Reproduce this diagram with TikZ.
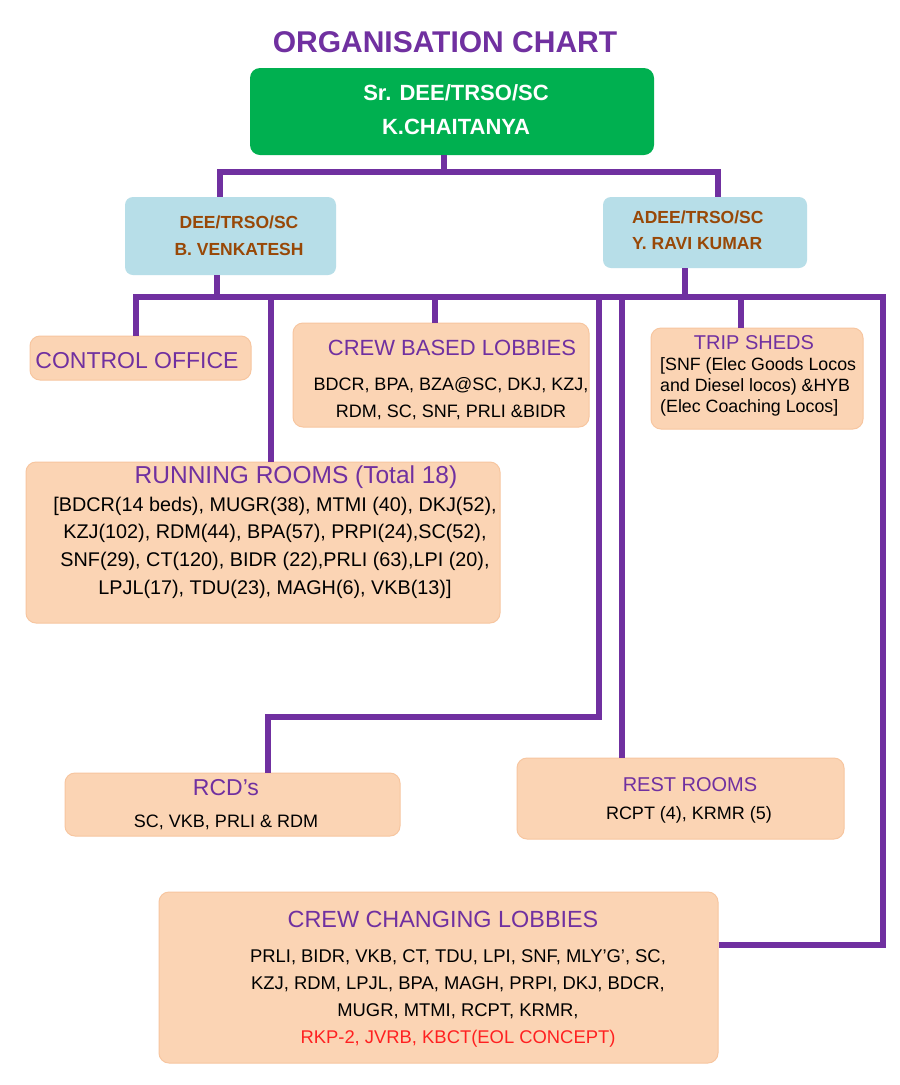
\documentclass[tikz,border=0pt]{standalone}
\usepackage{fontspec}
\setmainfont{Liberation Sans}
\definecolor{purp}{HTML}{7030A0}
\definecolor{grn}{HTML}{00B050}
\definecolor{lblue}{HTML}{B7DEE8}
\definecolor{brn}{HTML}{984807}
\definecolor{peach}{HTML}{FBD4B4}
\definecolor{peachln}{HTML}{F7C6A0}
\definecolor{redt}{HTML}{FF2020}
\tikzset{
  conn/.style={draw=purp, line width=5.5pt, line join=miter},
  greenbox/.style={fill=grn, draw=none, rounded corners=10pt, inner sep=0pt},
  bluebox/.style={fill=lblue, draw=none, rounded corners=8pt, inner sep=0pt},
  peachbox/.style={fill=peach, draw=peachln, line width=1pt, rounded corners=10pt, inner sep=0pt},
  ttl/.style={text=purp, inner sep=0pt},
  body/.style={text=black, inner sep=0pt, align=center},
}
\newcommand{\fs}[2]{\fontsize{#1}{#2}\selectfont}
\begin{document}
\begin{tikzpicture}[x=1pt,y=-1pt]
\useasboundingbox (0,0) rectangle (900,1085);
\fill[white] (0,0) rectangle (900,1085);
% title
\node[ttl, font=\bfseries\fs{30}{36}] (title) at (445,42) {ORGANISATION CHART};
% top boxes
\node[greenbox, minimum width=404, minimum height=87] (ceo) at (452,111.5) {};
\node[text=white, font=\bfseries\fs{22}{34}, align=center, inner sep=0pt] (ceot) at (456,110) {Sr. DEE/TRSO/SC\\K.CHAITANYA};
\node[bluebox, minimum width=211, minimum height=78] (dee) at (230.5,236) {};
\node[text=brn, font=\bfseries\fs{17.5}{27}, align=center, inner sep=0pt] (deet) at (239,235.5) {DEE/TRSO/SC\\B. VENKATESH};
\node[bluebox, minimum width=204, minimum height=71] (ade) at (705,232.5) {};
\node[text=brn, font=\bfseries\fs{17.5}{26}, align=left, anchor=west, inner sep=0pt] (adet) at (632,230) {ADEE/TRSO/SC\\Y. RAVI KUMAR};
% peach boxes
\node[peachbox, minimum width=221, minimum height=44] (ctrl) at (140.5,358) {};
\node[ttl, font=\fs{23}{28}] (ctrlt) at (137,361) {CONTROL OFFICE};
\node[peachbox, minimum width=296, minimum height=104] (cbl) at (441,375) {};
\node[ttl, font=\fs{22}{28}] (cblt) at (452,348) {CREW BASED LOBBIES};
\node[body, font=\fs{18}{27}] (cblb) at (451,398.5) {BDCR, BPA, BZA@SC, DKJ, KZJ,\\RDM, SC, SNF, PRLI \&BIDR};
\node[peachbox, minimum width=212, minimum height=101] (trip) at (757,378.5) {};
\node[ttl, font=\fs{20}{24}] (tript) at (754,343) {TRIP SHEDS};
\node[body, font=\fs{17.8}{21}, align=left, anchor=west] (tripb) at (660,387) {[SNF (Elec Goods Locos\\and Diesel locos) \&HYB\\(Elec Coaching Locos]};
\node[peachbox, minimum width=474, minimum height=161] (rr) at (263,542.5) {};
\node[ttl, font=\fs{24.5}{28}] (rrt) at (296,477) {RUNNING ROOMS (Total 18)};
\node[body, font=\fs{19.8}{27.7}] (rrb) at (275,547.5) {[BDCR(14 beds), MUGR(38), MTMI (40), DKJ(52),\\KZJ(102), RDM(44), BPA(57), PRPI(24),SC(52),\\SNF(29), CT(120), BIDR (22),PRLI (63),LPI (20),\\LPJL(17), TDU(23), MAGH(6), VKB(13)]};
\node[peachbox, minimum width=335, minimum height=63] (rcd) at (232.5,804.5) {};
\node[ttl, font=\fs{23}{28}] (rcdt) at (226,788) {RCD's};
\node[body, font=\fs{18}{24}] (rcdb) at (226,822) {SC, VKB, PRLI \& RDM};
\node[peachbox, minimum width=327, minimum height=81] (rest) at (680.5,798.5) {};
\node[ttl, font=\fs{20}{24}] (restt) at (690,785) {REST ROOMS};
\node[body, font=\fs{18}{24}] (restb) at (689,815) {RCPT (4), KRMR (5)};
\node[peachbox, minimum width=559, minimum height=171] (ccl) at (438.5,977.5) {};
\node[ttl, font=\fs{23.4}{28}] (cclt) at (443,919) {CREW CHANGING LOBBIES};
\node[body, font=\fs{18.4}{27.3}] (cclb) at (458,998.5) {PRLI, BIDR, VKB, CT, TDU, LPI, SNF, MLY'G', SC,\\KZJ, RDM, LPJL, BPA, MAGH, PRPI, DKJ, BDCR,\\MUGR, MTMI, RCPT, KRMR,\\\textcolor{redt}{RKP-2, JVRB, KBCT(EOL CONCEPT)}};
% junction coordinates
\coordinate (t0) at (444,172);
\coordinate (tl) at (220,172);
\coordinate (tr) at (718,172);
\coordinate (m1) at (217,297);
\coordinate (m2) at (685,297);
\coordinate (b0) at (136,297);
\coordinate (b9) at (883,297);
\coordinate (e1) at (883,945);
\coordinate (d2) at (271,297);
\coordinate (d3) at (435,297);
\coordinate (d4) at (599,297);
\coordinate (k1) at (599,717);
\coordinate (k2) at (268,717);
\coordinate (d5) at (622,297);
\coordinate (d6) at (741,297);
% connectors
\draw[conn] (ceo.south -| t0) -- (t0);
\draw[conn] (dee.north -| tl) -- (tl) -- (tr) -- (ade.north -| tr);
\draw[conn] (dee.south -| m1) -- (m1);
\draw[conn] (ade.south -| m2) -- (m2);
\draw[conn] (ctrl.north -| b0) -- (b0) -- (b9) -- (e1) -- (ccl.east |- e1);
\draw[conn] (d2) -- (rr.north -| d2);
\draw[conn] (d3) -- (cbl.north -| d3);
\draw[conn] (d4) -- (k1) -- (k2) -- (rcd.north -| k2);
\draw[conn] (d5) -- (rest.north -| d5);
\draw[conn] (d6) -- (trip.north -| d6);
\end{tikzpicture}
\end{document}
